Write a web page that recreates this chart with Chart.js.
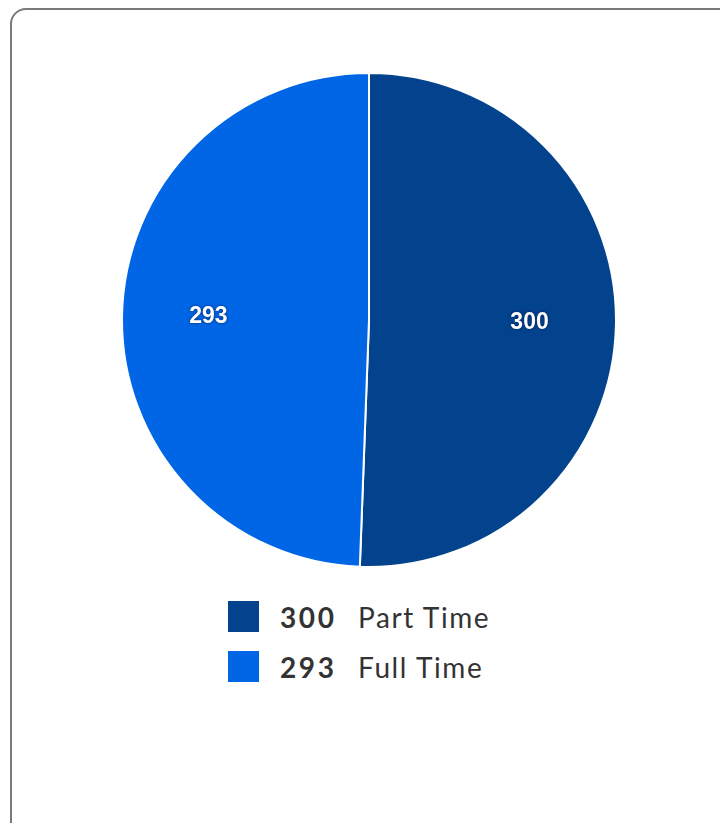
<!DOCTYPE html>
<html>
<head>
<meta charset="utf-8">
<script src="https://cdn.jsdelivr.net/npm/chart.js@4"></script>
<style>
  html, body { margin: 0; padding: 0; background: #fff; }
  body { width: 720px; height: 823px; position: relative; overflow: hidden; }
  .card {
    position: absolute; left: 10px; top: 8px; width: 740px; height: 830px;
    border: 2px solid #7a7a7a; border-radius: 16px; box-sizing: border-box;
  }
  #wrap { position: absolute; left: 121px; top: 72px; width: 496px; height: 496px; }
  #legend { position: absolute; left: 228px; top: 601px; font-family: Lato, sans-serif; color: #333; }
  .row { display: flex; align-items: center; height: 31px; margin-bottom: 19px; }
  .sw { width: 31px; height: 31px; margin-right: 21px; }
  .num { font-weight: bold; font-size: 28px; width: 78px; letter-spacing: 2.6px; }
  .lab { font-size: 28px; letter-spacing: 1.6px; }
</style>
</head>
<body>
<div class="card"></div>
<div id="wrap"><canvas id="pie"></canvas></div>
<div id="legend"></div>
<script>
const labels = ['Part Time', 'Full Time'];
const values = [300, 293];
const colors = ['#03438e', '#0066e6'];

// white numbers inside the slices
const sliceLabels = {
  id: 'sliceLabels',
  afterDatasetsDraw(chart) {
    const ctx = chart.ctx;
    const meta = chart.getDatasetMeta(0);
    ctx.save();
    ctx.font = '600 23px "Liberation Sans", Arial, sans-serif';
    ctx.textAlign = 'center';
    ctx.textBaseline = 'middle';
    ctx.fillStyle = '#fff';
    ctx.shadowColor = 'rgba(0,20,60,0.8)';
    ctx.shadowBlur = 3;
    meta.data.forEach((arc, i) => {
      const p = arc.getProps(['x', 'y', 'startAngle', 'endAngle', 'outerRadius'], true);
      const a = (p.startAngle + p.endAngle) / 2;
      const r = p.outerRadius * 0.65;
      ctx.fillText(String(values[i]), p.x + Math.cos(a) * r, p.y + Math.sin(a) * r);
    });
    ctx.restore();
  }
};

new Chart(document.getElementById('pie'), {
  type: 'pie',
  data: {
    labels: labels,
    datasets: [{
      data: values,
      backgroundColor: colors,
      borderColor: '#fff',
      borderWidth: 2
    }]
  },
  options: {
    responsive: true,
    maintainAspectRatio: false,
    animation: false,
    plugins: { legend: { display: false }, tooltip: { enabled: false } }
  },
  plugins: [sliceLabels]
});

const legend = document.getElementById('legend');
labels.forEach((l, i) => {
  const row = document.createElement('div');
  row.className = 'row';
  row.innerHTML = '<div class="sw" style="background:' + colors[i] + '"></div>' +
    '<span class="num">' + values[i] + '</span><span class="lab">' + l + '</span>';
  legend.appendChild(row);
});
</script>
</body>
</html>
